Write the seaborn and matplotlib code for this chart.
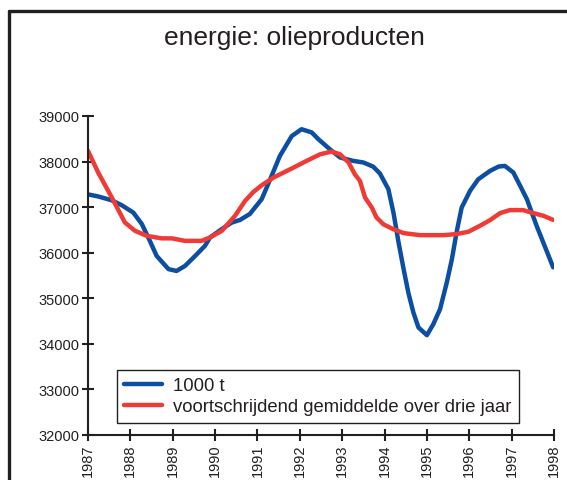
import numpy as np
import pandas as pd
import matplotlib
matplotlib.use("Agg")
import matplotlib.pyplot as plt
from matplotlib.lines import Line2D
import seaborn as sns

# values (year, 1000 t)
years_raw = [1987.0, 1987.24, 1987.56, 1987.8, 1988.07, 1988.27, 1988.46, 1988.62,
             1988.9, 1989.09, 1989.29, 1989.53, 1989.76, 1989.88, 1990.16, 1990.39,
             1990.59, 1990.82, 1991.1, 1991.3, 1991.53, 1991.81, 1992.04, 1992.28,
             1992.44, 1992.71, 1992.95, 1993.26, 1993.5, 1993.73, 1993.89, 1994.09,
             1994.21, 1994.33, 1994.45, 1994.56, 1994.68, 1994.8, 1995.0, 1995.15,
             1995.31, 1995.47, 1995.59, 1995.7, 1995.82, 1996.02, 1996.21, 1996.49,
             1996.69, 1996.84, 1997.04, 1997.2, 1997.36, 1997.59, 1997.98]
values_raw = [37280, 37235, 37150, 37040, 36880, 36630, 36260, 35930,
              35640, 35600, 35710, 35930, 36150, 36335, 36520, 36660,
              36720, 36850, 37175, 37610, 38125, 38560, 38710, 38640,
              38490, 38270, 38090, 38015, 37980, 37890, 37740, 37395,
              36880, 36230, 35640, 35130, 34690, 34360, 34190, 34430,
              34760, 35350, 35860, 36445, 36990, 37360, 37610, 37795,
              37890, 37905, 37760, 37470, 37175, 36590, 35680]

years_avg = [1987.0, 1987.24, 1987.56, 1987.87, 1988.11, 1988.39, 1988.74, 1988.98,
             1989.29, 1989.68, 1989.88, 1990.16, 1990.47, 1990.71, 1990.9, 1991.1,
             1991.38, 1991.77, 1992.16, 1992.48, 1992.75, 1992.95, 1993.15, 1993.3,
             1993.42, 1993.54, 1993.7, 1993.81, 1993.97, 1994.21, 1994.45, 1994.84,
             1995.39, 1995.7, 1995.98, 1996.25, 1996.49, 1996.73, 1996.96, 1997.27,
             1997.51, 1997.75, 1997.98]
values_avg = [38235, 37760, 37215, 36665, 36480, 36370, 36315, 36315,
              36260, 36260, 36335, 36480, 36810, 37140, 37330, 37480,
              37650, 37830, 38015, 38160, 38220, 38160, 37980, 37720,
              37575, 37210, 36990, 36775, 36625, 36515, 36430, 36385,
              36385, 36410, 36460, 36590, 36715, 36870, 36935, 36935,
              36870, 36810, 36720]

year_ticks = list(range(1987, 1999))
value_ticks = list(range(32000, 39001, 1000))

label_raw = "1000 t"
label_avg = "voortschrijdend gemiddelde over drie jaar"
title = "energie: olieproducten"

sns.set_style("ticks")
plt.rcParams["font.family"] = ["Liberation Sans", "DejaVu Sans"]

fig = plt.figure(figsize=(5.67, 4.81), dpi=100)
ax = fig.add_axes([88 / 567, 1 - 436 / 481, (554 - 88) / 567, (436 - 117) / 481])

df_raw = pd.DataFrame({"jaar": years_raw, "waarde": values_raw})
df_avg = pd.DataFrame({"jaar": years_avg, "waarde": values_avg})
sns.lineplot(data=df_raw, x="jaar", y="waarde", ax=ax, color="#0b4ea2",
             linewidth=3.2, label=label_raw, sort=False)
sns.lineplot(data=df_avg, x="jaar", y="waarde", ax=ax, color="#ee3b36",
             linewidth=3.2, label=label_avg, sort=False)

ax.set_xlim(1987, 1998)
ax.set_ylim(32000, 39000)
ax.set_xticks(year_ticks)
ax.set_xticklabels([str(y) for y in year_ticks], rotation=90)
ax.set_yticks(value_ticks)
ax.set_yticklabels([str(v) for v in value_ticks])
ax.set_xlabel("")
ax.set_ylabel("")
for side in ["top", "right"]:
    ax.spines[side].set_visible(False)
for side in ["left", "bottom"]:
    ax.spines[side].set_linewidth(1.5)
    ax.spines[side].set_color("#231f20")
ax.tick_params(direction="inout", length=8, width=1.5, colors="#231f20",
               labelsize=10.5, labelcolor="#231f20", pad=2)

leg = ax.legend(loc="lower left", bbox_to_anchor=(0.062, 0.038), borderaxespad=0,
                fontsize=13.3, handlelength=2.05, handletextpad=0.6, frameon=True,
                fancybox=False, framealpha=1, edgecolor="#231f20", borderpad=0.4,
                labelspacing=0.22)
leg.get_frame().set_linewidth(1.0)
for t in leg.get_texts():
    t.set_color("#231f20")

fig.text(294 / 567, 1 - 38 / 481, title, ha="center", va="center",
         fontsize=19, color="#231f20")

# outer frame (runs off the right and bottom edge)
fig.add_artist(Line2D([9 / 567, 1.01], [1 - 12 / 481] * 2, transform=fig.transFigure,
                      color="#231f20", linewidth=2.4))
fig.add_artist(Line2D([9 / 567] * 2, [1 - 12 / 481, -0.01], transform=fig.transFigure,
                      color="#231f20", linewidth=2.4))

fig.savefig("out.png", dpi=100)
